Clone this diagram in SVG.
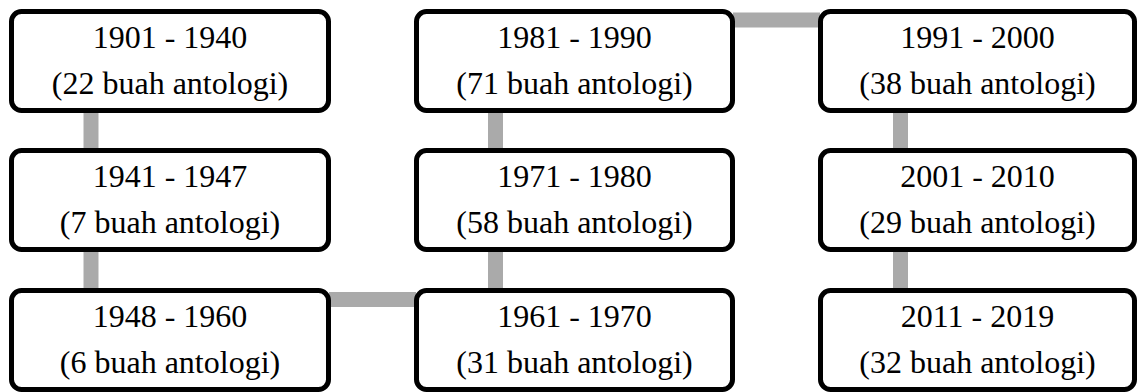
<svg xmlns="http://www.w3.org/2000/svg" width="1139" height="392" viewBox="0 0 1139 392">
<style>
.box{fill:#fff;stroke:#000;stroke-width:5}
.t{font-size:32px;fill:#000;text-anchor:middle}
.c{stroke:#aaaaaa;stroke-width:15;fill:none}
</style>
<rect width="1139" height="392" fill="#fff"/>
<g id="connectors">
<line class="c" x1="91" y1="110" x2="91" y2="150"/>
<line class="c" x1="91" y1="249" x2="91" y2="290"/>
<line class="c" x1="329" y1="299.5" x2="416" y2="299.5"/>
<line class="c" x1="495.5" y1="249" x2="495.5" y2="290"/>
<line class="c" x1="495.5" y1="110" x2="495.5" y2="150"/>
<line class="c" x1="733" y1="20" x2="820" y2="20"/>
<line class="c" x1="900.5" y1="110" x2="900.5" y2="150"/>
<line class="c" x1="900.5" y1="249" x2="900.5" y2="290"/>
</g>
<g font-family="'Liberation Serif', 'Times New Roman', 'DejaVu Serif', serif">
<g id="n1901"><rect class="box" x="11.5" y="11.5" width="317" height="99" rx="10"/><text class="t" x="170" y="48">1901 - 1940</text><text class="t" x="170" y="94">(22 buah antologi)</text></g>
<g id="n1941"><rect class="box" x="11.5" y="150.5" width="317" height="99" rx="10"/><text class="t" x="170" y="187">1941 - 1947</text><text class="t" x="170" y="233">(7 buah antologi)</text></g>
<g id="n1948"><rect class="box" x="11.5" y="290.5" width="317" height="99" rx="10"/><text class="t" x="170" y="327">1948 - 1960</text><text class="t" x="170" y="373">(6 buah antologi)</text></g>
<g id="n1961"><rect class="box" x="416.5" y="290.5" width="316" height="99" rx="10"/><text class="t" x="574.5" y="327">1961 - 1970</text><text class="t" x="574.5" y="373">(31 buah antologi)</text></g>
<g id="n1971"><rect class="box" x="416.5" y="150.5" width="316" height="99" rx="10"/><text class="t" x="574.5" y="187">1971 - 1980</text><text class="t" x="574.5" y="233">(58 buah antologi)</text></g>
<g id="n1981"><rect class="box" x="416.5" y="11.5" width="316" height="99" rx="10"/><text class="t" x="574.5" y="48">1981 - 1990</text><text class="t" x="574.5" y="94">(71 buah antologi)</text></g>
<g id="n1991"><rect class="box" x="820.5" y="11.5" width="314" height="99" rx="10"/><text class="t" x="977.5" y="48">1991 - 2000</text><text class="t" x="977.5" y="94">(38 buah antologi)</text></g>
<g id="n2001"><rect class="box" x="820.5" y="150.5" width="314" height="99" rx="10"/><text class="t" x="977.5" y="187">2001 - 2010</text><text class="t" x="977.5" y="233">(29 buah antologi)</text></g>
<g id="n2011"><rect class="box" x="820.5" y="290.5" width="314" height="99" rx="10"/><text class="t" x="977.5" y="327">2011 - 2019</text><text class="t" x="977.5" y="373">(32 buah antologi)</text></g>
</g>
</svg>
